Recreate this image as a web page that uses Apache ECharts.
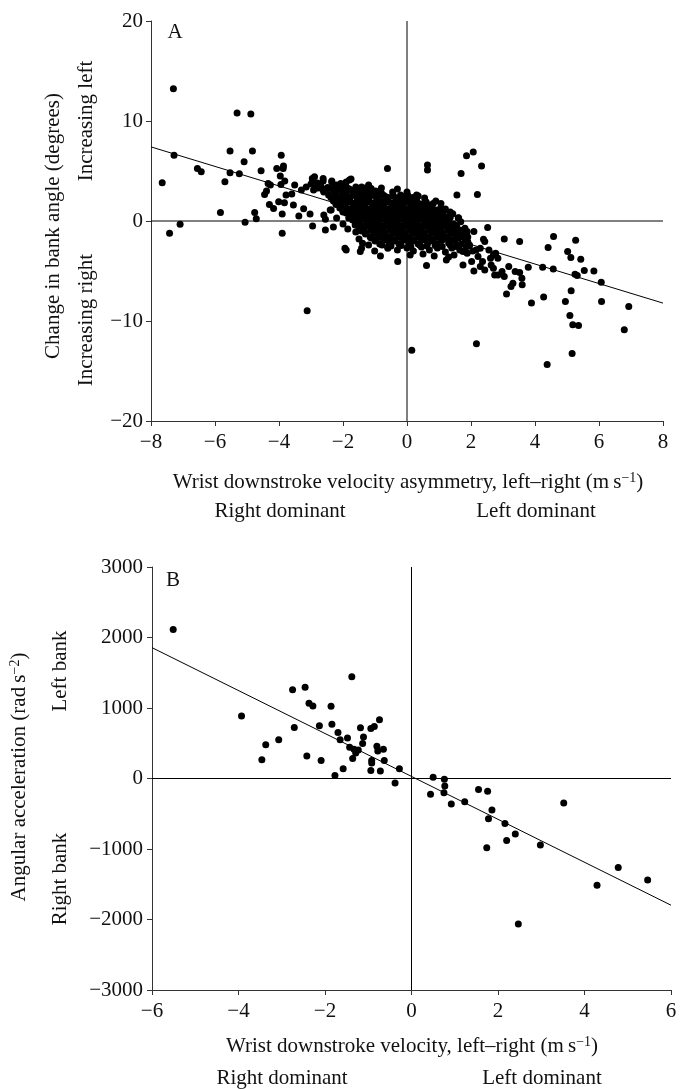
<!DOCTYPE html>
<html>
<head>
<meta charset="utf-8">
<script src="https://cdn.jsdelivr.net/npm/echarts@6/dist/echarts.min.js"></script>
<style>
  html, body { margin: 0; padding: 0; background: #fff; }
  #chart { width: 685px; height: 1089px; }
</style>
</head>
<body>
<div id="chart"></div>
<script>
// panel A: wrist asymmetry (m/s) vs change in bank angle (degrees)
var xTicksA = [-8, 8, 2];
var yTicksA = [-20, 20, 10];
var pointsA = [
  [-7.30, 13.23], [-7.65, 3.82], [-7.28, 6.58], [-7.42, -1.23], [-7.09, -0.33],
  [-6.55, 5.25], [-6.43, 4.92], [-5.83, 0.86], [-5.69, 3.92], [-5.53, 7.01],
  [-5.53, 4.82], [-5.31, 10.80], [-5.24, 4.72], [-5.06, -0.13], [-5.09, 5.92],
  [-4.88, 10.70], [-4.83, 7.01], [-4.76, 0.86], [-4.71, 0.23], [-4.56, 5.02],
  [-4.45, 2.66], [-4.39, 2.99], [-4.34, 3.76], [-4.27, 3.59], [-4.30, 1.66],
  [-4.17, 1.26], [-4.07, 5.25], [-4.01, 1.93], [-3.93, 6.58], [-3.94, 3.66],
  [-3.96, 4.49], [-3.90, -1.23], [-3.90, 0.70], [-3.86, 5.49], [-3.82, 3.99],
  [-3.83, 1.83], [-3.87, 5.25], [-3.78, 2.59], [-3.60, 2.69], [-3.55, 1.60],
  [-3.51, 3.59], [-3.38, 0.50], [-3.30, 3.09], [-3.23, 1.23], [-3.12, -8.98],
  [-3.03, 0.70], [-2.95, -0.50], [-2.96, 4.26], [-2.89, 4.42], [-2.65, 3.26],
  [-2.62, 4.26], [-2.55, -0.90], [-2.55, 0.17], [-2.35, 3.99], [-2.37, 1.10],
  [-2.07, 3.76], [-1.80, 4.09], [-1.90, -2.89], [-1.94, -2.73], [-1.42, -2.73],
  [-1.39, -2.23], [-1.46, -3.06], [-1.01, -2.99], [-0.83, -3.49], [-0.61, 5.25],
  [-0.60, -2.73], [-0.29, -4.06], [0.15, -12.93], [0.64, 5.59], [0.64, 5.09],
  [0.61, -4.45], [1.06, 1.76], [1.23, -3.89], [1.43, 0.73], [1.56, 2.59],
  [1.69, 4.75], [1.86, 6.52], [2.07, 6.91], [2.20, 2.66], [2.33, 5.49],
  [2.17, -12.27], [2.09, -4.99], [2.52, -0.66], [2.39, -1.83], [3.04, -1.80],
  [3.52, -2.06], [3.11, -7.31], [3.25, -6.55], [3.31, -6.22], [3.38, -5.05],
  [3.52, -5.15], [3.59, -5.72], [3.60, -6.38], [3.79, -4.62], [3.89, -8.21],
  [4.24, -4.62], [4.27, -7.61], [4.38, -14.36], [4.41, -2.66], [4.58, -1.56],
  [4.57, -4.79], [4.95, -8.05], [5.02, -3.06], [5.12, -3.66], [5.09, -9.44],
  [5.13, -6.98], [5.16, -13.26], [5.18, -10.37], [5.25, -5.32], [5.27, -1.93],
  [5.36, -10.44], [5.43, -3.82], [5.54, -4.95], [5.84, -4.99], [6.07, -6.12],
  [6.08, -8.05], [6.79, -10.87], [6.93, -8.54], [5.32, -5.45],
  [2.43, -2.06], [2.56, -2.89], [2.70, -3.39], [2.84, -3.72], [2.77, -3.22],
  [2.29, -4.55], [2.43, -4.89], [2.63, -4.39], [2.61, -3.72], [2.70, -4.72],
  [2.97, -5.05], [2.74, -5.39], [2.84, -5.39], [3.04, -5.55], [3.18, -4.55],
  [2.29, -2.73], [2.02, -4.06], [1.88, -3.22], [1.75, -4.39], [1.75, -3.06],
  [1.54, -2.56], [1.61, -1.56], [1.95, -2.39], [2.16, -2.89], [2.22, -3.56],
  [2.36, -4.06], [1.47, -3.39], [2.09, -1.06], [1.88, -1.06], [1.61, 0.33],
  [1.68, -0.07], [1.81, -0.73],
  // dense cluster round the origin
  [-2.95, 4.1], [-2.8, 3.8], [-2.62, 4.0], [-2.35, 3.9], [-2.2, 3.6], [-1.75, 4.2], [-1.9, 3.9],
  [-3.15, 3.4], [-3.0, 3.7], [-2.85, 3.3], [-2.7, 3.55], [-2.5, 3.2], [-2.3, 3.4], [-2.1, 3.1],
  [-1.95, 3.5], [-1.8, 3.2], [-1.6, 3.4], [-1.45, 3.0], [-1.3, 3.3],
  [-2.92, 3.1], [-2.78, 3.3], [-2.62, 3.1], [-2.48, 3.35], [-2.32, 3.1], [-2.18, 3.3], [-2.02, 3.15],
  [-1.88, 3.35], [-1.72, 3.05], [-1.58, 3.25], [-1.42, 3.4], [-1.28, 3.05], [-1.12, 3.25], [-0.98, 3.0],
  [-2.6, 2.9], [-2.45, 2.6], [-2.25, 2.8], [-2.05, 2.5], [-1.9, 2.9], [-1.7, 2.6], [-1.55, 2.8],
  [-1.4, 2.5], [-1.25, 2.7], [-1.1, 2.9], [-0.95, 2.6], [-0.8, 2.8], [-0.65, 2.4], [-0.45, 2.9],
  [-0.2, 2.6], [0.05, 2.2], [0.3, 2.1], [0.55, 2.3],
  [-2.38, 2.35], [-2.22, 2.55], [-2.08, 2.3], [-1.92, 2.5], [-1.78, 2.35], [-1.62, 2.55], [-1.48, 2.3],
  [-1.32, 2.5], [-1.18, 2.35], [-1.02, 2.55], [-0.88, 2.3], [-0.72, 2.55], [-0.58, 2.35], [-0.42, 2.5],
  [-0.28, 2.3], [-0.12, 2.45], [0.02, 2.6], [0.18, 2.35], [0.35, 2.5],
  [-2.3, 2.0], [-2.15, 2.3], [-2.0, 1.9], [-1.85, 2.2], [-1.7, 1.8], [-1.55, 2.1], [-1.4, 1.9],
  [-1.25, 2.2], [-1.1, 1.8], [-0.95, 2.1], [-0.8, 1.9], [-0.65, 2.2], [-0.5, 1.8], [-0.35, 2.1],
  [-0.2, 1.9], [-0.05, 2.2], [0.1, 1.8], [0.25, 2.0], [0.4, 1.7], [0.6, 1.9], [0.75, 1.6],
  [-2.22, 1.65], [-2.08, 1.85], [-1.92, 1.7], [-1.78, 1.9], [-1.62, 1.65], [-1.48, 1.8], [-1.32, 1.7],
  [-1.18, 1.9], [-1.02, 1.65], [-0.88, 1.85], [-0.72, 1.7], [-0.58, 1.9], [-0.42, 1.65], [-0.28, 1.8],
  [-0.12, 1.7], [0.02, 1.9], [0.18, 1.65], [0.32, 1.85], [0.48, 1.7], [0.62, 1.55], [0.82, 1.75],
  [-2.1, 1.3], [-1.95, 1.6], [-1.8, 1.2], [-1.65, 1.5], [-1.5, 1.3], [-1.35, 1.6], [-1.2, 1.2],
  [-1.05, 1.5], [-0.9, 1.3], [-0.75, 1.6], [-0.6, 1.2], [-0.45, 1.5], [-0.3, 1.3], [-0.15, 1.6],
  [0.0, 1.2], [0.15, 1.5], [0.3, 1.3], [0.45, 1.6], [0.6, 1.2], [0.75, 1.4], [0.9, 1.1], [1.05, 1.3],
  [-2.0, 1.0], [-1.88, 1.15], [-1.72, 0.95], [-1.58, 1.1], [-1.42, 1.0], [-1.28, 1.15], [-1.12, 0.95],
  [-0.98, 1.1], [-0.82, 1.0], [-0.68, 1.15], [-0.52, 0.95], [-0.38, 1.1], [-0.22, 1.0], [-0.08, 1.15],
  [0.08, 0.95], [0.22, 1.1], [0.38, 1.0], [0.52, 1.15], [0.68, 0.95], [0.82, 1.1], [0.98, 0.95], [1.15, 1.0],
  [-1.9, 0.8], [-1.75, 0.5], [-1.6, 0.9], [-1.45, 0.6], [-1.3, 0.8], [-1.15, 0.5], [-1.0, 0.9],
  [-0.85, 0.6], [-0.7, 0.8], [-0.55, 0.5], [-0.4, 0.9], [-0.25, 0.6], [-0.1, 0.8], [0.05, 0.5],
  [0.2, 0.9], [0.35, 0.6], [0.5, 0.8], [0.65, 0.5], [0.8, 0.8], [0.95, 0.5], [1.1, 0.7], [1.25, 0.4],
  [-1.82, 0.3], [-1.68, 0.45], [-1.52, 0.3], [-1.38, 0.4], [-1.22, 0.25], [-1.08, 0.4], [-0.92, 0.3],
  [-0.78, 0.45], [-0.62, 0.25], [-0.48, 0.4], [-0.32, 0.3], [-0.18, 0.45], [-0.02, 0.25], [0.12, 0.4],
  [0.28, 0.3], [0.42, 0.45], [0.58, 0.25], [0.72, 0.4], [0.88, 0.3], [1.02, 0.4], [1.18, 0.25], [1.35, 0.35],
  [-1.7, 0.1], [-1.55, -0.2], [-1.4, 0.2], [-1.25, -0.1], [-1.1, 0.1], [-0.95, -0.2], [-0.8, 0.2],
  [-0.65, -0.1], [-0.5, 0.1], [-0.35, -0.2], [-0.2, 0.2], [-0.05, -0.1], [0.1, 0.1], [0.25, -0.2],
  [0.4, 0.2], [0.55, -0.1], [0.7, 0.1], [0.85, -0.2], [1.0, 0.1], [1.15, -0.1], [1.3, 0.0], [1.45, -0.3],
  [-1.62, -0.4], [-1.48, -0.25], [-1.32, -0.45], [-1.18, -0.3], [-1.02, -0.4], [-0.88, -0.25], [-0.72, -0.45],
  [-0.58, -0.3], [-0.42, -0.4], [-0.28, -0.25], [-0.12, -0.45], [0.02, -0.3], [0.18, -0.4], [0.32, -0.25],
  [0.48, -0.45], [0.62, -0.3], [0.78, -0.4], [0.92, -0.25], [1.08, -0.45], [1.22, -0.3], [1.38, -0.4], [1.55, -0.45],
  [-1.5, -0.6], [-1.35, -0.9], [-1.2, -0.5], [-1.05, -0.8], [-0.9, -0.6], [-0.75, -0.9], [-0.6, -0.5],
  [-0.45, -0.8], [-0.3, -0.6], [-0.15, -0.9], [0.0, -0.5], [0.15, -0.8], [0.3, -0.6], [0.45, -0.9],
  [0.6, -0.5], [0.75, -0.8], [0.9, -0.6], [1.05, -0.9], [1.2, -0.5], [1.35, -0.8], [1.5, -0.6], [1.65, -0.9],
  [-1.42, -1.0], [-1.28, -1.15], [-1.12, -0.95], [-0.98, -1.1], [-0.82, -1.0], [-0.68, -1.15], [-0.52, -0.95],
  [-0.38, -1.1], [-0.22, -1.0], [-0.08, -1.15], [0.08, -0.95], [0.22, -1.1], [0.38, -1.0], [0.52, -1.15],
  [0.68, -0.95], [0.82, -1.1], [0.98, -1.0], [1.12, -1.15], [1.28, -0.95], [1.42, -1.1], [1.58, -1.0], [1.78, -1.1],
  [-1.3, -1.3], [-1.15, -1.6], [-1.0, -1.2], [-0.85, -1.5], [-0.7, -1.3], [-0.55, -1.6], [-0.4, -1.2],
  [-0.25, -1.5], [-0.1, -1.3], [0.05, -1.6], [0.2, -1.2], [0.35, -1.5], [0.5, -1.3], [0.65, -1.6],
  [0.8, -1.2], [0.95, -1.5], [1.1, -1.3], [1.25, -1.6], [1.4, -1.2], [1.55, -1.5], [1.75, -1.3], [1.9, -1.6],
  [-1.12, -1.7], [-0.98, -1.85], [-0.82, -1.65], [-0.68, -1.8], [-0.52, -1.7], [-0.38, -1.85], [-0.22, -1.65],
  [-0.08, -1.8], [0.08, -1.7], [0.22, -1.85], [0.38, -1.65], [0.52, -1.8], [0.68, -1.7], [0.82, -1.85],
  [0.98, -1.65], [1.12, -1.8], [1.28, -1.7], [1.42, -1.85], [1.62, -1.7], [1.82, -1.8],
  [-1.0, -2.0], [-0.85, -2.3], [-0.7, -1.9], [-0.55, -2.2], [-0.4, -2.0], [-0.25, -2.3], [-0.1, -1.9],
  [0.05, -2.2], [0.2, -2.0], [0.35, -2.3], [0.5, -1.9], [0.65, -2.2], [0.8, -2.0], [0.95, -2.3],
  [1.1, -1.9], [1.3, -2.2], [1.5, -2.0], [1.7, -2.3], [1.9, -2.1],
  [-0.78, -2.4], [-0.5, -2.5], [-0.18, -2.45], [0.12, -2.55], [0.4, -2.4], [0.62, -2.5], [0.88, -2.45],
  [1.1, -2.55], [1.35, -2.4], [1.6, -2.5], [1.95, -2.45],
  [-0.6, -2.6], [-0.3, -2.9], [0.0, -2.7], [0.2, -3.0], [0.45, -2.6], [0.7, -2.9], [0.95, -2.7],
  [1.2, -3.1], [1.4, -2.7], [1.65, -2.9], [1.85, -2.6], [2.05, -3.0],
  [0.1, -3.4], [0.5, -3.3], [0.85, -3.5], [1.3, -3.6], [-2.4, 1.1], [-2.6, 0.6], [-2.2, 0.3],
  [-2.0, -0.3], [-1.85, -0.8], [-2.3, -0.6], [-1.6, -1.1], [-1.5, -1.8], [-1.2, -2.4], [-2.0, 0.9],
  [0.9, 2.0], [1.2, 1.2], [1.35, 0.9], [1.6, 0.3], [-0.8, 3.3], [-1.2, 3.6], [0.3, 2.6], [0.0, 2.9], [-0.3, 3.2]
];
var fitA = [[-8, 7.41], [8, -8.21]];
var zeroVA = [[0, -20], [0, 20]];
var zeroHA = [[-8, 0], [8, 0]];

// panel B: wrist velocity (m/s) vs angular acceleration (rad/s2)
var xTicksB = [-6, 6, 2];
var yTicksB = [-3000, 3000, 1000];
var pointsB = [
  [-5.51, 2112], [-3.93, 885], [-3.46, 267], [-3.37, 480], [-3.07, 549],
  [-2.75, 1259], [-2.71, 725], [-2.46, 1296], [-2.42, 320], [-2.37, 1067],
  [-2.28, 1029], [-2.13, 747], [-2.09, 256], [-1.86, 1024], [-1.84, 768],
  [-1.77, 43], [-1.70, 651], [-1.65, 549], [-1.58, 139], [-1.48, 576],
  [-1.43, 443], [-1.38, 1445], [-1.36, 283], [-1.33, 416], [-1.29, 363],
  [-1.23, 405], [-1.18, 720], [-1.13, 496], [-1.11, 587], [-0.94, 709],
  [-0.92, 256], [-0.92, 219], [-0.94, 112], [-0.86, 736], [-0.80, 459],
  [-0.78, 389], [-0.74, 832], [-0.72, 107], [-0.65, 416], [-0.63, 256],
  [-0.28, 139], [-0.38, -64], [0.44, -224], [0.50, 16], [0.76, -11],
  [0.77, -107], [0.75, -203], [0.92, -363], [1.23, -331], [1.55, -155],
  [1.76, -181], [1.74, -981], [1.78, -571], [1.86, -448], [2.16, -640],
  [2.20, -880], [2.40, -789], [2.47, -2064], [2.98, -944], [3.52, -347],
  [4.29, -1515], [4.78, -1264], [5.46, -1440]
];
var fitB = [[-6, 1856], [6, -1797]];
var zeroVB = [[0, -3000], [0, 3000]];
var zeroHB = [[-6, 0], [6, 0]];

var FONT = 'Liberation Serif';
var INK = '#111';

function minus(v) {
  return String(v).replace('-', '\u2212');
}

function valueAxis(ticks, idx, margin) {
  return {
    type: 'value',
    gridIndex: idx,
    min: ticks[0],
    max: ticks[1],
    interval: ticks[2],
    axisLine: { show: true, onZero: false, lineStyle: { color: '#333', width: 1 } },
    axisTick: { show: true, inside: false, length: 5, lineStyle: { color: '#333' } },
    splitLine: { show: false },
    axisLabel: { color: INK, fontFamily: FONT, fontSize: 21, margin: margin, formatter: minus }
  };
}

function lineSeries(data, xi) {
  return {
    type: 'line',
    xAxisIndex: xi,
    yAxisIndex: xi,
    data: data,
    symbol: 'none',
    silent: true,
    lineStyle: { color: '#000', width: 1 },
    z: 1
  };
}

function dots(data, xi) {
  return {
    type: 'scatter',
    xAxisIndex: xi,
    yAxisIndex: xi,
    data: data,
    symbolSize: 7,
    itemStyle: { color: '#000', opacity: 1 },
    z: 2
  };
}

function txt(x, y, text, rotate) {
  return {
    type: 'text',
    x: x,
    y: y,
    rotation: rotate ? Math.PI / 2 : 0,
    style: {
      text: text,
      fill: INK,
      font: '21px "' + FONT + '"',
      align: 'center',
      verticalAlign: 'middle',
      rich: {
        sup: { fontSize: 14, fontFamily: FONT, fill: INK, verticalAlign: 'top', lineHeight: 14, padding: [0, 0, 10, 0] }
      }
    }
  };
}

var chart = echarts.init(document.getElementById('chart'));
chart.setOption({
  animation: false,
  backgroundColor: '#fff',
  grid: [
    { left: 151, top: 21, width: 512, height: 400 },
    { left: 152, top: 567, width: 519, height: 423 }
  ],
  xAxis: [valueAxis(xTicksA, 0, 11), valueAxis(xTicksB, 1, 11)],
  yAxis: [valueAxis(yTicksA, 0, 8), valueAxis(yTicksB, 1, 9)],
  series: [
    lineSeries(zeroVA, 0),
    lineSeries(zeroHA, 0),
    lineSeries(fitA, 0),
    dots(pointsA, 0),
    lineSeries(zeroVB, 1),
    lineSeries(zeroHB, 1),
    lineSeries(fitB, 1),
    dots(pointsB, 1)
  ],
  graphic: [
    txt(175, 32, 'A'),
    txt(53, 226, 'Change in bank angle (degrees)', true),
    txt(86, 121, 'Increasing left', true),
    txt(86, 320, 'Increasing right', true),
    txt(408, 482, 'Wrist downstroke velocity asymmetry, left\u2013right (m\u2009s{sup|\u22121})'),
    txt(280, 511, 'Right dominant'),
    txt(536, 511, 'Left dominant'),
    txt(173, 580, 'B'),
    txt(19, 777, 'Angular acceleration (rad\u2009s{sup|\u22122})', true),
    txt(60, 671, 'Left bank', true),
    txt(60, 879, 'Right bank', true),
    txt(412, 1046, 'Wrist downstroke velocity, left\u2013right (m\u2009s{sup|\u22121})'),
    txt(282, 1078, 'Right dominant'),
    txt(542, 1078, 'Left dominant')
  ]
});
</script>
</body>
</html>
